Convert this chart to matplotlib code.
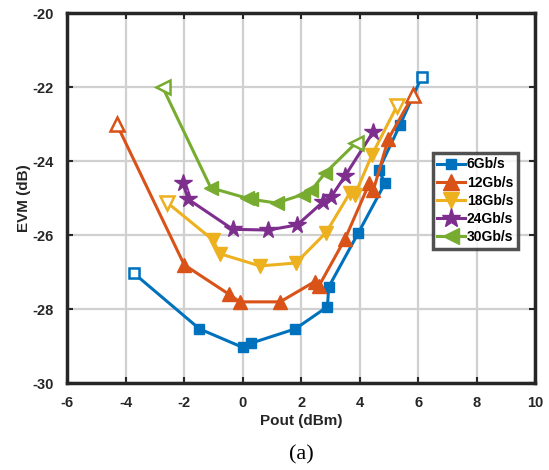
import matplotlib
matplotlib.use("Agg")
import matplotlib.pyplot as plt

labels = ["6Gb/s", "12Gb/s", "18Gb/s", "24Gb/s", "30Gb/s"]
colors = ["#0072BD", "#D95319", "#EDB120", "#7E2F8E", "#77AC30"]
markers = ["s", "^", "v", "*", "<"]
msizes = [7, 10, 10, 13, 10]

x6 = [-3.72, -1.48, 0.0, 0.27, 1.80, 2.90, 2.94, 3.96, 4.87, 4.65, 5.38, 6.12]
y6 = [-27.03, -28.53, -29.03, -28.92, -28.53, -27.93, -27.40, -25.93, -24.59, -24.24, -23.02, -21.73]
x12 = [-4.31, -2.00, -0.46, -0.10, 1.28, 2.47, 2.60, 3.50, 4.33, 4.47, 4.98, 5.84]
y12 = [-23.00, -26.80, -27.60, -27.80, -27.80, -27.25, -27.38, -26.10, -24.60, -24.78, -23.40, -22.20]
x18 = [-2.58, -1.03, -0.78, 0.59, 1.82, 2.85, 3.67, 3.84, 4.42, 5.27]
y18 = [-25.12, -26.12, -26.50, -26.83, -26.75, -25.93, -24.85, -24.90, -23.83, -22.52]
x24 = [-2.05, -1.86, -0.34, 0.88, 1.87, 2.76, 3.01, 3.50, 4.47]
y24 = [-24.59, -25.03, -25.84, -25.86, -25.72, -25.09, -24.98, -24.40, -23.20]
x30 = [-2.74, -1.09, 0.15, 0.30, 1.16, 2.05, 2.35, 2.82, 3.88]
y30 = [-22.00, -24.72, -25.00, -25.03, -25.13, -24.90, -24.78, -24.32, -23.50]

xs = [x6, x12, x18, x24, x30]
ys = [y6, y12, y18, y24, y30]

xticks = [-6, -4, -2, 0, 2, 4, 6, 8, 10]
yticks = [-30, -28, -26, -24, -22, -20]

plt.rcParams['font.family'] = ['Liberation Sans', 'DejaVu Sans']
plt.rcParams['axes.unicode_minus'] = False
fig = plt.figure(figsize=(5.49, 4.70), dpi=100)
ax = fig.add_axes([0.1226, 0.1845, 0.852, 0.7875])

for x, y, c, m, ms, lab in zip(xs, ys, colors, markers, msizes, labels):
    ax.plot(x, y, color=c, marker=m, markersize=ms, linewidth=2.2, label=lab, zorder=3)
    # endpoints appear hollow in the reference
    if m != "*":
        ax.plot([x[0], x[-1]], [y[0], y[-1]], linestyle='none', marker=m,
                markersize=ms * 0.95, markerfacecolor='white', markeredgecolor=c,
                markeredgewidth=1.8, zorder=4)

ax.set_xlim(-6, 10)
ax.set_ylim(-30, -20)
ax.set_xticks(xticks)
ax.set_yticks(yticks)
ax.grid(True, color='#d0d0d0', linewidth=1.6, zorder=0)
ax.set_axisbelow(True)
ax.tick_params(direction='in', top=True, right=True, length=4, width=1.5,
               labelsize=10.5, colors='#262626')
ax.tick_params(axis='x', pad=9)
ax.tick_params(axis='y', pad=10)
for lab in ax.get_xticklabels() + ax.get_yticklabels():
    lab.set_fontweight('bold')
for s in ax.spines.values():
    s.set_linewidth(2.5)
    s.set_color('#262626')

ax.set_xlabel("Pout (dBm)", fontsize=11, fontweight='bold', color='#262626', labelpad=3)
ax.set_ylabel("EVM (dB)", fontsize=11, fontweight='bold', color='#262626', labelpad=1)

leg = ax.legend(loc='lower left', bbox_to_anchor=(0.781, 0.363),
                prop={'weight': 'bold', 'size': 10}, frameon=True, fancybox=False,
                edgecolor='#262626', handlelength=2.0, handletextpad=0.1,
                labelspacing=0.3, borderpad=0.35, borderaxespad=0.0, markerscale=1.1)
leg.get_frame().set_linewidth(2.5)

fig.text(0.549, 0.032, "(a)", fontsize=16, family=['Liberation Serif', 'DejaVu Serif'],
         ha='center', va='center')

fig.savefig("out.png", dpi=100)
